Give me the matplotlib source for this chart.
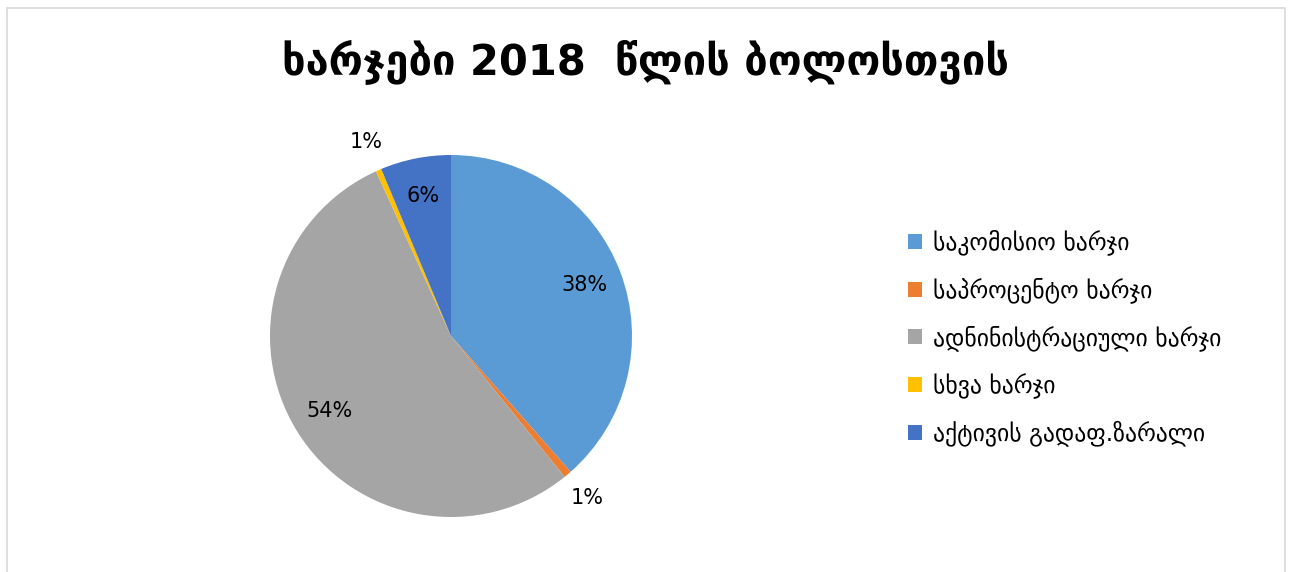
import matplotlib
matplotlib.use("Agg")
import matplotlib.pyplot as plt
import numpy as np
from matplotlib.patches import Rectangle

title = "ხარჯები 2018  წლის ბოლოსთვის"
categories = ["საკომისიო ხარჯი", "საპროცენტო ხარჯი", "ადნინისტრაციული ხარჯი",
              "სხვა ხარჯი", "აქტივის გადაფ.ზარალი"]
values = [38.5, 0.7, 54.0, 0.5, 6.3]
labels_pct = ["38%", "1%", "54%", "1%", "6%"]
colors = ["#5B9BD5", "#ED7D31", "#A5A5A5", "#FFC000", "#4472C4"]

plt.rcParams['font.family'] = ['DejaVu Sans']

W, H = 1292, 572
fig = plt.figure(figsize=(W / 100, H / 100), dpi=100)
fig.patches.append(Rectangle((7 / W, -0.05), (1285 - 7) / W, 1 - 8 / H + 0.05,
                             transform=fig.transFigure, fill=False,
                             edgecolor="#D9D9D9", linewidth=1.2))

cx, cy, r = 451, 336, 181
ax = fig.add_axes([(cx - r) / W, (H - cy - r) / H, 2 * r / W, 2 * r / H])
wedges, _ = ax.pie(values, colors=colors, startangle=90, counterclock=False,
                   radius=1.0, wedgeprops=dict(linewidth=0))
ax.set_xlim(-1, 1)
ax.set_ylim(-1, 1)
ax.set_aspect('equal')
ax.axis('off')

for w, lab, v in zip(wedges, labels_pct, values):
    ang = np.deg2rad((w.theta1 + w.theta2) / 2)
    d = 0.79 if v > 3 else 1.17
    ax.text(d * np.cos(ang), d * np.sin(ang), lab, ha='center', va='center',
            fontsize=15, color='#000000', clip_on=False)

fig.text(0.5, 1 - 62 / H, title, ha='center', va='center', fontsize=30,
         fontweight='bold', color='black')

handles = [Rectangle((0, 0), 1, 1, facecolor=c, edgecolor='none') for c in colors]
fig.legend(handles, categories, loc='center left',
           bbox_to_anchor=(887 / W, 1 - 338 / H), frameon=False, fontsize=17,
           handlelength=0.6, handleheight=0.6, handletextpad=0.45, labelspacing=0.93)

fig.savefig("out.png", dpi=100)
